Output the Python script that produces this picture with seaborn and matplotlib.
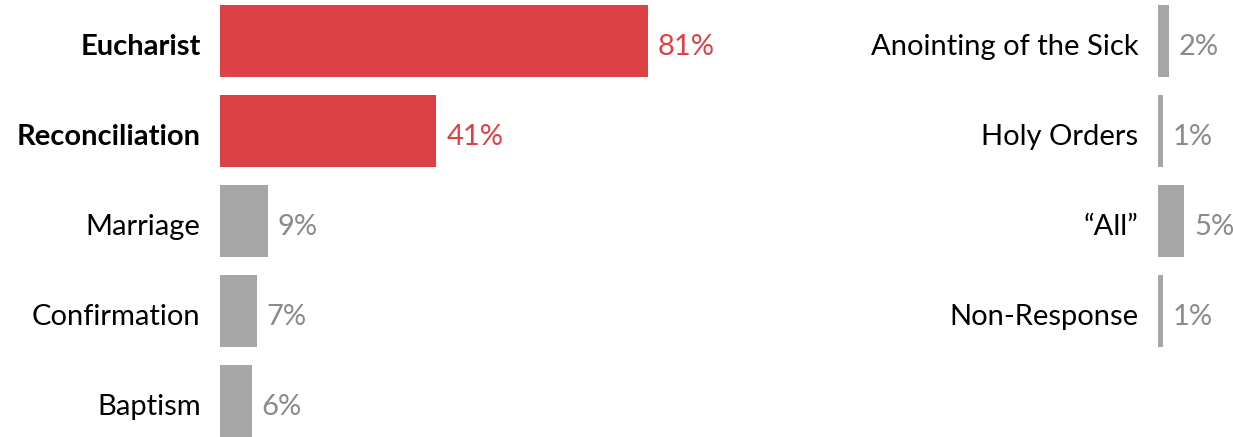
import matplotlib
matplotlib.use("Agg")
import matplotlib.pyplot as plt
import seaborn as sns

left_labels = ["Eucharist", "Reconciliation", "Marriage", "Confirmation", "Baptism"]
left_values = [81, 41, 9, 7, 6]
left_bold = [True, True, False, False, False]

right_labels = ["Anointing of the Sick", "Holy Orders", "\u201cAll\u201d", "Non-Response"]
right_values = [2, 1, 5, 1]

RED = "#DC4146"
GREY = "#A6A6A6"
GREY_TXT = "#8A8A8A"

sns.set_style("white")
plt.rcParams["font.family"] = ["Lato", "DejaVu Sans"]

W, H = 1233, 437
fig = plt.figure(figsize=(W / 100, H / 100), dpi=100)
fig.patch.set_facecolor("white")

PX_PER_PCT = 5.28
PITCH = 90


def panel(x0, labels, values, bold):
    n = len(labels)
    top = -4
    height = n * PITCH
    ax = fig.add_axes([x0 / W, (H - top - height) / H, 100 * PX_PER_PCT / W, height / H])
    colors = [RED if b else GREY for b in bold]
    sns.barplot(x=values, y=labels, hue=labels, palette=colors, legend=False,
                orient="h", width=0.79, ax=ax, saturation=1, linewidth=0)
    ax.set_xlim(0, 100)
    ax.set_ylim(n - 0.5, -0.5)
    ax.set_xticks([])
    ax.set_yticks([])
    ax.set_xlabel("")
    ax.set_ylabel("")
    for s in ax.spines.values():
        s.set_visible(False)
    ax.patch.set_alpha(0)
    for i, (lab, v, b) in enumerate(zip(labels, values, bold)):
        ax.annotate(lab, (0, i), xytext=(-14, -4), textcoords="offset points",
                    ha="right", va="center", fontsize=21,
                    fontweight="bold" if b else "normal", color="black")
        ax.annotate(f"{v}%", (v, i), xytext=(7, -4), textcoords="offset points",
                    ha="left", va="center", fontsize=21,
                    color=RED if b else GREY_TXT)
    return ax


panel(220, left_labels, left_values, left_bold)
panel(1158, right_labels, right_values, [False] * len(right_labels))

fig.savefig("out.png", dpi=100, facecolor="white")
